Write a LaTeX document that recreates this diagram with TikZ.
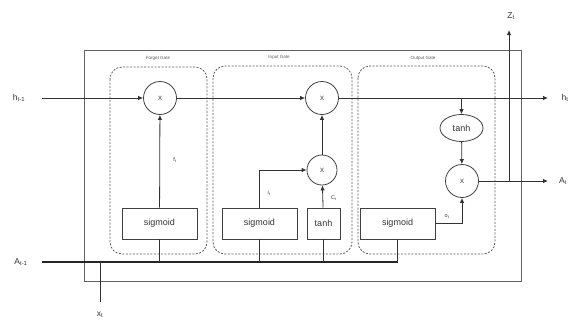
\documentclass[tikz,border=0pt]{standalone}
\usepackage{fontspec}
\setmainfont{Liberation Sans}
\usetikzlibrary{arrows.meta,shapes.geometric}
\begin{document}
\begin{tikzpicture}[x=1pt,y=-1pt,
 line/.style={draw=black!80, line width=0.8pt},
 arr/.style={line,-{Latex[length=5pt,width=4.5pt]}},
 mult/.style={circle, draw=black!75, line width=0.8pt, minimum size=33pt, inner sep=0pt, font=\fontsize{8}{9}\selectfont, text=black!70},
 opbox/.style={rectangle, draw=black!75, line width=0.9pt, inner sep=0pt, minimum height=31pt, font=\fontsize{9}{10}\selectfont, text=black!80},
 gatebox/.style={draw=black!65, line width=0.8pt, dash pattern=on 2pt off 1.5pt, rounded corners=12pt},
 lab/.style={font=\fontsize{8.5}{9}\selectfont, inner sep=1pt, text=black!80},
 small/.style={font=\fontsize{5.5}{6}\selectfont, inner sep=0.5pt, text=black!80},
 tiny/.style={font=\fontsize{4.5}{5}\selectfont, inner sep=0pt, text=black!65}]
\useasboundingbox (0,0) rectangle (572,327);
% outer cell
\draw[draw=black!62, line width=1pt] (84,50) rectangle (521,281);
% gate regions
\draw[gatebox] (110,67) rectangle (207,254);
\draw[gatebox] (213,66) rectangle (352,254);
\draw[gatebox] (358,66) rectangle (495,254);
\node[tiny] (tf) at (158,58) {Forget Gate};
\node[tiny] (ti) at (279,57) {Input Gate};
\node[tiny] (to) at (423,58) {Output Gate};
% operators
\node[mult] (m1) at (160,98) {x};
\node[mult] (m2) at (322,98) {x};
\node[mult, minimum size=30pt] (m3) at (322,170) {x};
\node[mult] (m4) at (462,181) {x};
\node[ellipse, draw=black!75, line width=0.8pt, minimum width=43pt, minimum height=27pt, inner sep=0pt, font=\fontsize{9}{10}\selectfont, text=black!80] (th) at (461.5,128) {tanh};
\node[opbox, minimum width=75pt] (s1) at (159.5,223.5) {sigmoid};
\node[opbox, minimum width=75pt] (s2) at (259.5,223.5) {sigmoid};
\node[opbox, minimum width=33pt] (tb) at (323.5,223.5) {tanh};
\node[opbox, minimum width=75pt] (s3) at (397.5,223.5) {sigmoid};
% labels
\node[lab] (hl) at (19,98) {h\textsubscript{t-1}};
\node[lab] (hr) at (565,98) {h\textsubscript{t}};
\node[lab] (al) at (21,262) {A\textsubscript{t-1}};
\node[lab] (ar) at (563,181) {A\textsubscript{t}};
\node[lab] (zl) at (511,16) {Z\textsubscript{t}};
\node[lab] (xl) at (100,315) {x\textsubscript{t}};
\node[small] (fl) at (175,160) {f\textsubscript{t}};
\node[small] (il) at (269,193) {i\textsubscript{t}};
\node[small] (cl) at (334,198) {C\textsubscript{t}};
\node[small] (ol) at (447,217) {o\textsubscript{t}};
% coordinates
\coordinate (hs) at (42,98);
\coordinate (he) at (548,98);
\coordinate (ct) at (461.5,98);
\coordinate (ae) at (548,181);
\coordinate (zs) at (509,181);
\coordinate (ze) at (509,30);
\coordinate (as) at (42,262);
\coordinate (xa) at (100,262);
\coordinate (xe) at (100,302);
% cell state line
\draw[arr] (hs) -- (m1);
\draw[arr] (m1) -- (m2);
\draw[arr] (m2) -- (he);
\draw[arr] (ct) -- (th);
\draw[arr] (th) -- (m4);
\draw[arr] (m4) -- (ae);
\draw[arr] (zs) -- (ze);
% gate connections
\draw[arr] (s1) -- (m1);
\draw[arr] (s2.north) |- (m3);
\draw[arr] (tb) -- (m3);
\draw[arr] (m3) -- (m2);
\draw[arr] (s3.east) -| (m4.south);
% input line
\draw[draw=black!85, line width=1.4pt] (as) -- (s3.south |- as);
\draw[line] (s1.south) -- (s1.south |- as);
\draw[line] (s2.south) -- (s2.south |- as);
\draw[line] (tb.south) -- (tb.south |- as);
\draw[line] (s3.south) -- (s3.south |- as);
\draw[line] (xa) -- (xe);
\end{tikzpicture}
\end{document}
